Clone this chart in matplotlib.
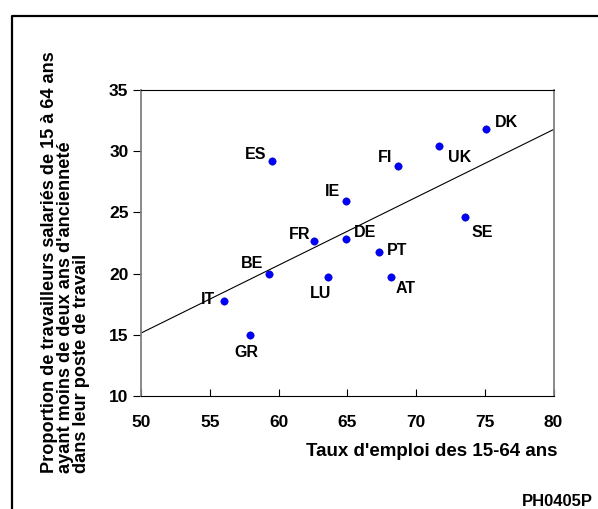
import numpy as np
import matplotlib
matplotlib.use("Agg")
import matplotlib.pyplot as plt
from matplotlib.lines import Line2D

plt.rcParams['font.family'] = ['Liberation Sans', 'DejaVu Sans']

# Employment rate (x) vs share of employees with < 2 years tenure (y)
countries = ["DK", "UK", "FI", "ES", "IE", "SE", "FR", "DE", "PT", "BE", "LU", "AT", "IT", "GR"]
emploi = [75.1, 71.7, 68.7, 59.5, 64.9, 73.6, 62.6, 64.9, 67.3, 59.3, 63.6, 68.2, 56.0, 57.9]
anciennete = [31.8, 30.4, 28.8, 29.2, 25.9, 24.6, 22.7, 22.8, 21.8, 20.0, 19.7, 19.7, 17.8, 15.0]

x_ticks = [50, 55, 60, 65, 70, 75, 80]
y_ticks = [10, 15, 20, 25, 30, 35]

# label offsets (points) and alignment per country
label_pos = {
    "DK": (6, 5, "left"),
    "UK": (6, -8, "left"),
    "FI": (-4, 6, "right"),
    "ES": (-4, 5, "right"),
    "IE": (-4, 7, "right"),
    "SE": (4, -11, "left"),
    "FR": (-3, 4, "right"),
    "DE": (6, 5, "left"),
    "PT": (6, 1, "left"),
    "BE": (-4, 7, "right"),
    "LU": (-5, -12, "center"),
    "AT": (3, -8, "left"),
    "IT": (-6, 1, "right"),
    "GR": (-2, -13, "center"),
}

fig = plt.figure(figsize=(5.98, 5.09), dpi=100)
ax = fig.add_axes([141 / 598, 1 - 396 / 509, (553.5 - 141) / 598, (396 - 90) / 509])

# regression line over the full x range
slope, intercept = np.polyfit(emploi, anciennete, 1)
xl = np.array([x_ticks[0], x_ticks[-1]])
ax.plot(xl, slope * xl + intercept, color="black", lw=0.8, zorder=2)

ax.plot(emploi, anciennete, "o", color="#0000ff", ms=5.3, mec="#0000aa", mew=0.4,
        zorder=3, linestyle="none")

for c, x, y in zip(countries, emploi, anciennete):
    dx, dy, ha = label_pos[c]
    ax.annotate(c, (x, y), xytext=(dx, dy), textcoords="offset points",
                ha=ha, va="center", fontsize=11.5, fontweight="bold")

ax.set_xlim(50, 80)
ax.set_ylim(10, 35)
ax.set_xticks(x_ticks)
ax.set_yticks(y_ticks)
ax.tick_params(axis="x", direction="in", length=5, width=0.8, pad=14,
               labelsize=12.5)
ax.tick_params(axis="y", direction="out", length=6, width=0.8, pad=3,
               labelsize=12.5)
for lab in ax.get_xticklabels() + ax.get_yticklabels():
    lab.set_fontweight("bold")

for side in ("left", "right"):
    ax.spines[side].set_color("#808080")
    ax.spines[side].set_linewidth(1.3)
for side in ("top", "bottom"):
    ax.spines[side].set_color("black")
    ax.spines[side].set_linewidth(0.8)

fig.text(432 / 598, 1 - 451 / 509, "Taux d'emploi des 15-64 ans",
         ha="center", va="center", fontsize=13.5, fontweight="bold")

fig.text(65.5 / 598, 1 - 473 / 509,
         "Proportion de travailleurs salariés de 15 à 64 ans\n"
         "ayant moins de deux ans d'ancienneté\n"
         "dans leur poste de travail",
         rotation=90, ha="center", va="bottom", multialignment="left",
         fontsize=13.1, fontweight="bold", linespacing=0.92)

fig.text(593 / 598, 1 - 502 / 509, "PH0405P", ha="right", va="center",
         fontsize=12, fontweight="bold")

# outer frame (left and top edges)
fig.add_artist(Line2D([11.5 / 598, 11.5 / 598, 1.0], [0.0, 1 - 15.5 / 509, 1 - 15.5 / 509],
                      transform=fig.transFigure, color="black", lw=1.6))

fig.savefig("out.png", dpi=100)
